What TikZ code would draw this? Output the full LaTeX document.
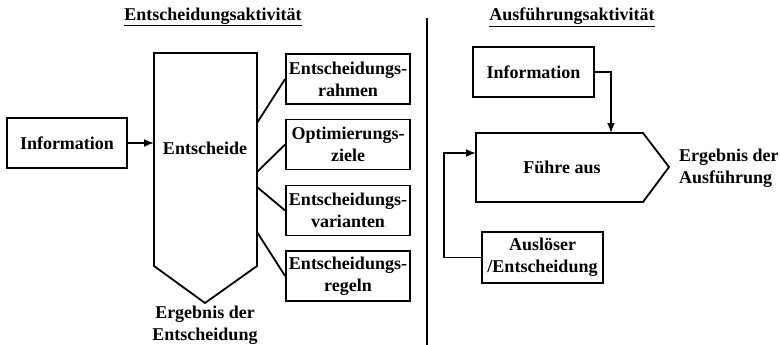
\documentclass[tikz,border=0pt]{standalone}
\usepackage{fontspec}
\setmainfont{Liberation Serif}
\usetikzlibrary{arrows.meta}
\tikzset{
  every node/.style={font=\fontsize{18}{22}\selectfont\bfseries},
  line/.style={line width=1.8pt},
  box/.style={draw, line width=1.8pt, align=center, inner sep=0pt},
  flow/.style={line width=1.8pt, -{Latex[length=10pt,width=8pt]}},
  label/.style={align=center, inner sep=0pt},
}
\begin{document}
\begin{tikzpicture}[x=1pt,y=-1pt]
\useasboundingbox (0,0) rectangle (781,345);

% ---- left: decision activity ----
\node[label] (title1) at (213,17) {\underline{Entscheidungsaktivität}};

\node[box, minimum width=120pt, minimum height=50pt] (info1) at (67,143) {Information};

% tall process shape with pointed bottom
\draw[line, line join=miter] (154,53) -- (257,53) -- (257,266) -- (205,303) -- (154,266) -- cycle;
\coordinate (entin) at (154,143);
\coordinate (e1) at (257,123);
\coordinate (e2) at (257,172);
\coordinate (e3) at (257,187);
\coordinate (e4) at (257,232);
\node[label] (entscheide) at (205,148) {Entscheide};
\node[label] (res1) at (205,325) {Ergebnis der\\Entscheidung};

\draw[flow] (info1.east) -- (entin);

\node[box, minimum width=124pt, minimum height=50pt] (b1) at (348,79) {Entscheidungs-\\rahmen};
\node[box, minimum width=124pt, minimum height=50pt] (b2) at (348,144.5) {Optimierungs-\\ziele};
\node[box, minimum width=124pt, minimum height=50pt] (b3) at (348,210.5) {Entscheidungs-\\varianten};
\node[box, minimum width=124pt, minimum height=50pt] (b4) at (348,276) {Entscheidungs-\\regeln};

\draw[line] (e1) -- (b1.west);
\draw[line] (e2) -- (b2.west);
\draw[line] (e3) -- (b3.west);
\draw[line] (e4) -- (b4.west);

% ---- divider ----
\coordinate (dtop) at (427,18);
\coordinate (dbot) at (427,345);
\draw[line] (dtop) -- (dbot);

% ---- right: execution activity ----
\node[label] (title2) at (572,17) {\underline{Ausführungsaktivität}};

\node[box, minimum width=121pt, minimum height=50pt] (info2) at (533.5,72) {Information};

% process shape with pointed right end
\draw[line] (476,133) -- (643,133) -- (669,167) -- (643,202) -- (476,202) -- cycle;
\coordinate (fatop) at (611,133);
\coordinate (fain) at (476,153);
\node[label] (fuehre) at (562,167) {Führe aus};
\node[label, anchor=west, align=left] (res2) at (679,168) {Ergebnis der\\Ausführung};

\node[box, minimum width=121pt, minimum height=51pt] (ausl) at (542.5,257.5) {Auslöser\\/Entscheidung};
\coordinate (bend) at (444,257.5);

\draw[flow] (info2.east) -| (fatop);
\draw[flow] (ausl.west) -- (bend) |- (fain);
\end{tikzpicture}
\end{document}
